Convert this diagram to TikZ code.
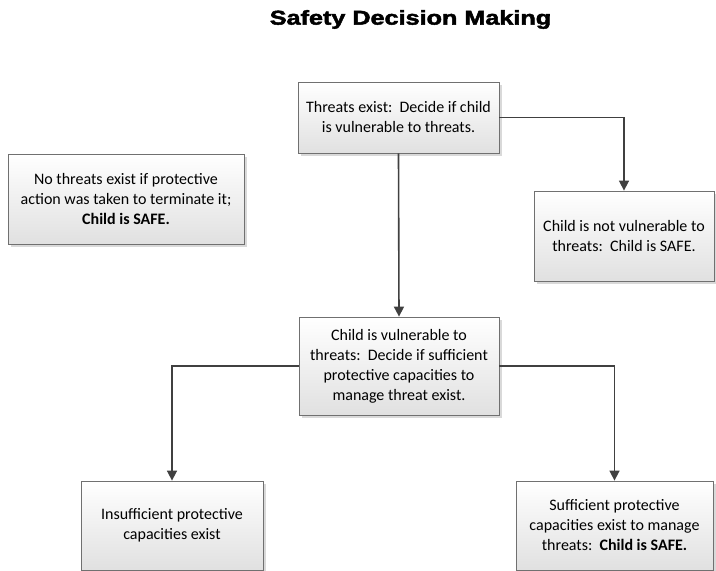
\documentclass[tikz,border=0pt]{standalone}
\usepackage{fontspec}
\setmainfont{Carlito}
\newfontfamily\titlefont[FakeBold=2.2]{Liberation Sans}
\usetikzlibrary{arrows.meta,shadows}
\definecolor{boxline}{HTML}{707070}
\definecolor{arrowline}{HTML}{404040}
\tikzset{
  box/.style={draw=boxline, line width=0.8pt, rectangle, align=center,
    top color=white, bottom color=black!12, inner sep=2pt,
    font=\fontsize{16}{20}\selectfont,
    drop shadow={shadow xshift=2.5pt, shadow yshift=-2.5pt, opacity=0.25, fill=black!60}},
  conn/.style={draw=arrowline, line width=1.6pt, -{Triangle[length=10pt,width=10pt]}}
}
\begin{document}
\begin{tikzpicture}[x=1pt,y=-1pt]
\useasboundingbox (0,0) rectangle (716,571);
\node[font=\titlefont\bfseries\fontsize{20}{22}\selectfont] (title) at (410.5,19.5) {\scalebox{1.26}[1]{Safety Decision Making}};
\node[box, minimum width=201pt, minimum height=71pt] (top) at (398.5,117.5)
  {Threats exist:\ \ Decide if child\\is vulnerable to threats.};
\node[box, minimum width=236pt, minimum height=90pt] (left) at (126,199)
  {No threats exist if protective\\action was taken to terminate it;\\\textbf{Child is SAFE.}};
\node[box, minimum width=180pt, minimum height=90pt] (right) at (624,236)
  {Child is not vulnerable to\\threats:\ \ Child is SAFE.};
\node[box, minimum width=200pt, minimum height=98pt] (mid) at (399,366)
  {Child is vulnerable to\\threats:\ \ Decide if sufficient\\protective capacities to\\manage threat exist.};
\node[box, minimum width=182pt, minimum height=89pt] (bl) at (172,525.5)
  {Insufficient protective\\capacities exist};
\node[box, minimum width=197pt, minimum height=89pt] (br) at (614.5,525.5)
  {Sufficient protective\\capacities exist to manage\\threats:\ \ \textbf{Child is SAFE.}};
\draw[conn] (top.south) -- (mid.north);
\draw[conn] (top.east) -| (right.north);
\draw[conn] (mid.west) -| (bl.north);
\draw[conn] (mid.east) -| (br.north);
\end{tikzpicture}
\end{document}
